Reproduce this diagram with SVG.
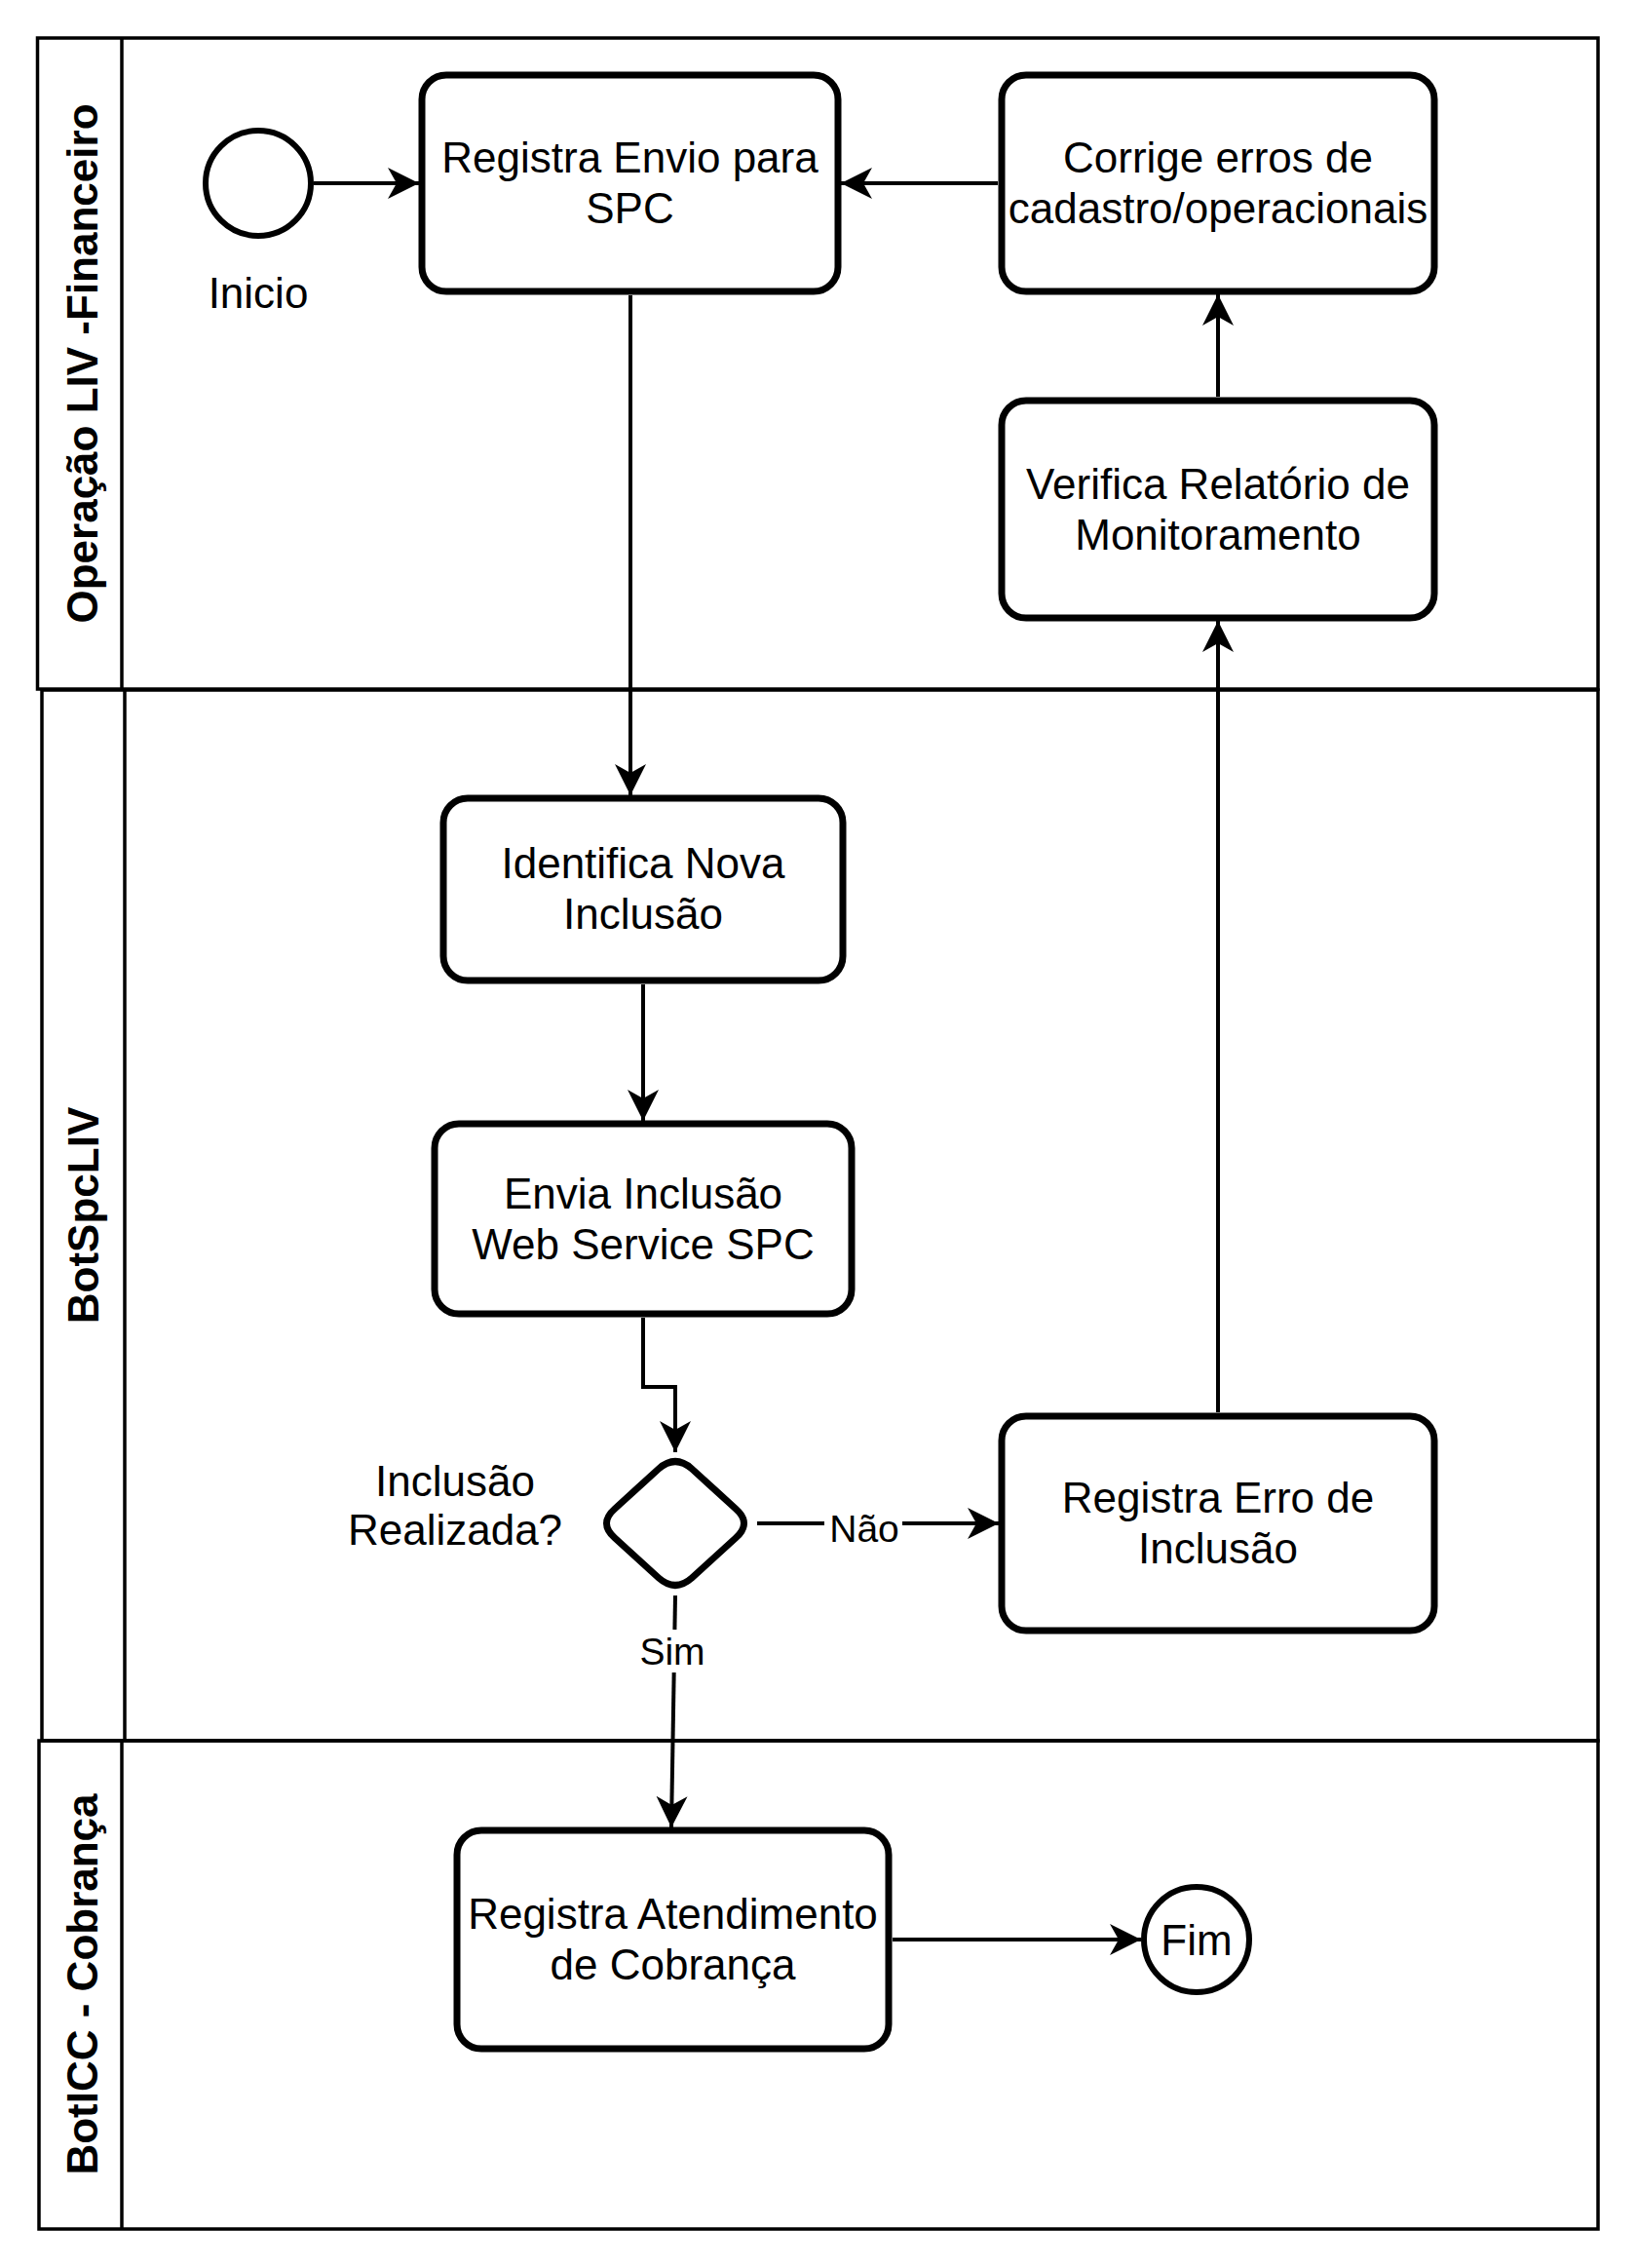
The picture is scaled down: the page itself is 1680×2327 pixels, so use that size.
<svg xmlns="http://www.w3.org/2000/svg" width="1680" height="2327" viewBox="0 0 1680 2327">
<style>
.lane{fill:none;stroke:#000;stroke-width:3.5}
.box{fill:#fff;stroke:#000;stroke-width:7}
.t{font-family:"Liberation Sans",Arial,sans-serif;font-size:44px;fill:#000;text-anchor:middle}
.lt{font-family:"Liberation Sans",Arial,sans-serif;font-size:44px;font-weight:bold;fill:#000;text-anchor:middle}
.el{font-family:"Liberation Sans",Arial,sans-serif;font-size:39px;fill:#000;text-anchor:middle}
.c{fill:none;stroke:#000;stroke-width:4}
</style>
<defs>
<marker id="arr" markerUnits="userSpaceOnUse" markerWidth="34" markerHeight="34" refX="32" refY="16" orient="auto">
<path d="M0,0 L32,16 L0,32 L9,16 Z" fill="#000"/>
</marker>
</defs>
<rect width="1680" height="2327" fill="#fff"/>
<g id="lane1">
<rect class="lane" x="38.5" y="39" width="1601.5" height="668"/>
<line class="lane" x1="125" y1="39" x2="125" y2="707"/>
<text class="lt" transform="translate(100,373) rotate(-90)">Operação LIV -Financeiro</text>
</g>
<g id="lane2">
<rect class="lane" x="43" y="708" width="1597" height="1078"/>
<line class="lane" x1="128" y1="708" x2="128" y2="1786"/>
<text class="lt" transform="translate(101,1247) rotate(-90)">BotSpcLIV</text>
</g>
<g id="lane3">
<rect class="lane" x="40" y="1786" width="1600" height="501"/>
<line class="lane" x1="125" y1="1786" x2="125" y2="2287"/>
<text class="lt" transform="translate(100,2036) rotate(-90)">BotICC - Cobrança</text>
</g>
<g id="connectors">
<line class="c" x1="322" y1="188" x2="430" y2="188" marker-end="url(#arr)"/>
<line class="c" x1="1024" y1="188" x2="863" y2="188" marker-end="url(#arr)"/>
<line class="c" x1="1250" y1="407" x2="1250" y2="302" marker-end="url(#arr)"/>
<line class="c" x1="647" y1="303" x2="647" y2="816" marker-end="url(#arr)"/>
<line class="c" x1="660" y1="1010" x2="660" y2="1150" marker-end="url(#arr)"/>
<polyline class="c" points="660,1352 660,1423 693,1423 693,1490" marker-end="url(#arr)"/>
<line class="c" x1="777" y1="1563" x2="1025" y2="1563" marker-end="url(#arr)"/>
<line class="c" x1="693" y1="1637" x2="689" y2="1875" marker-end="url(#arr)"/>
<line class="c" x1="1250" y1="1449" x2="1250" y2="637" marker-end="url(#arr)"/>
<line class="c" x1="916" y1="1990" x2="1171" y2="1990" marker-end="url(#arr)"/>
<rect x="846" y="1545" width="80" height="40" fill="#fff"/>
<text class="el" x="887" y="1582">Não</text>
<rect x="652" y="1672" width="76" height="44" fill="#fff"/>
<text class="el" x="690" y="1708">Sim</text>
</g>
<g id="start">
<circle cx="265" cy="188" r="54" fill="#fff" stroke="#000" stroke-width="6"/>
<text class="t" x="265" y="316">Inicio</text>
</g>
<g id="registra-envio">
<rect class="box" x="433" y="77" width="427" height="222" rx="25"/>
<text class="t" x="646.5" y="177">Registra Envio para</text>
<text class="t" x="646.5" y="229">SPC</text>
</g>
<g id="corrige">
<rect class="box" x="1028" y="77" width="444" height="222" rx="25"/>
<text class="t" x="1250" y="177">Corrige erros de</text>
<text class="t" x="1250" y="229">cadastro/operacionais</text>
</g>
<g id="verifica">
<rect class="box" x="1028" y="411" width="444" height="223" rx="25"/>
<text class="t" x="1250" y="512">Verifica Relatório de</text>
<text class="t" x="1250" y="564">Monitoramento</text>
</g>
<g id="identifica">
<rect class="box" x="455" y="819" width="410" height="187" rx="25"/>
<text class="t" x="660" y="901">Identifica Nova</text>
<text class="t" x="660" y="953">Inclusão</text>
</g>
<g id="envia">
<rect class="box" x="446" y="1153" width="428" height="195" rx="25"/>
<text class="t" x="660" y="1240">Envia Inclusão</text>
<text class="t" x="660" y="1292">Web Service SPC</text>
</g>
<g id="gateway">
<path d="M676,1507 Q693,1492 710,1507 L755,1548 Q772,1563 755,1578 L710,1619 Q693,1634 676,1619 L631,1578 Q614,1563 631,1548 Z" fill="#fff" stroke="#000" stroke-width="7" stroke-linejoin="round"/>
<text class="t" x="467" y="1535">Inclusão</text>
<text class="t" x="467" y="1585">Realizada?</text>
</g>
<g id="registra-erro">
<rect class="box" x="1028" y="1453" width="444" height="220" rx="25"/>
<text class="t" x="1250" y="1552">Registra Erro de</text>
<text class="t" x="1250" y="1604">Inclusão</text>
</g>
<g id="registra-atendimento">
<rect class="box" x="469" y="1878" width="443" height="224" rx="25"/>
<text class="t" x="690.5" y="1979">Registra Atendimento</text>
<text class="t" x="690.5" y="2031">de Cobrança</text>
</g>
<g id="end">
<circle cx="1228" cy="1990" r="54" fill="#fff" stroke="#000" stroke-width="6"/>
<text class="t" x="1228" y="2006">Fim</text>
</g>
</svg>
